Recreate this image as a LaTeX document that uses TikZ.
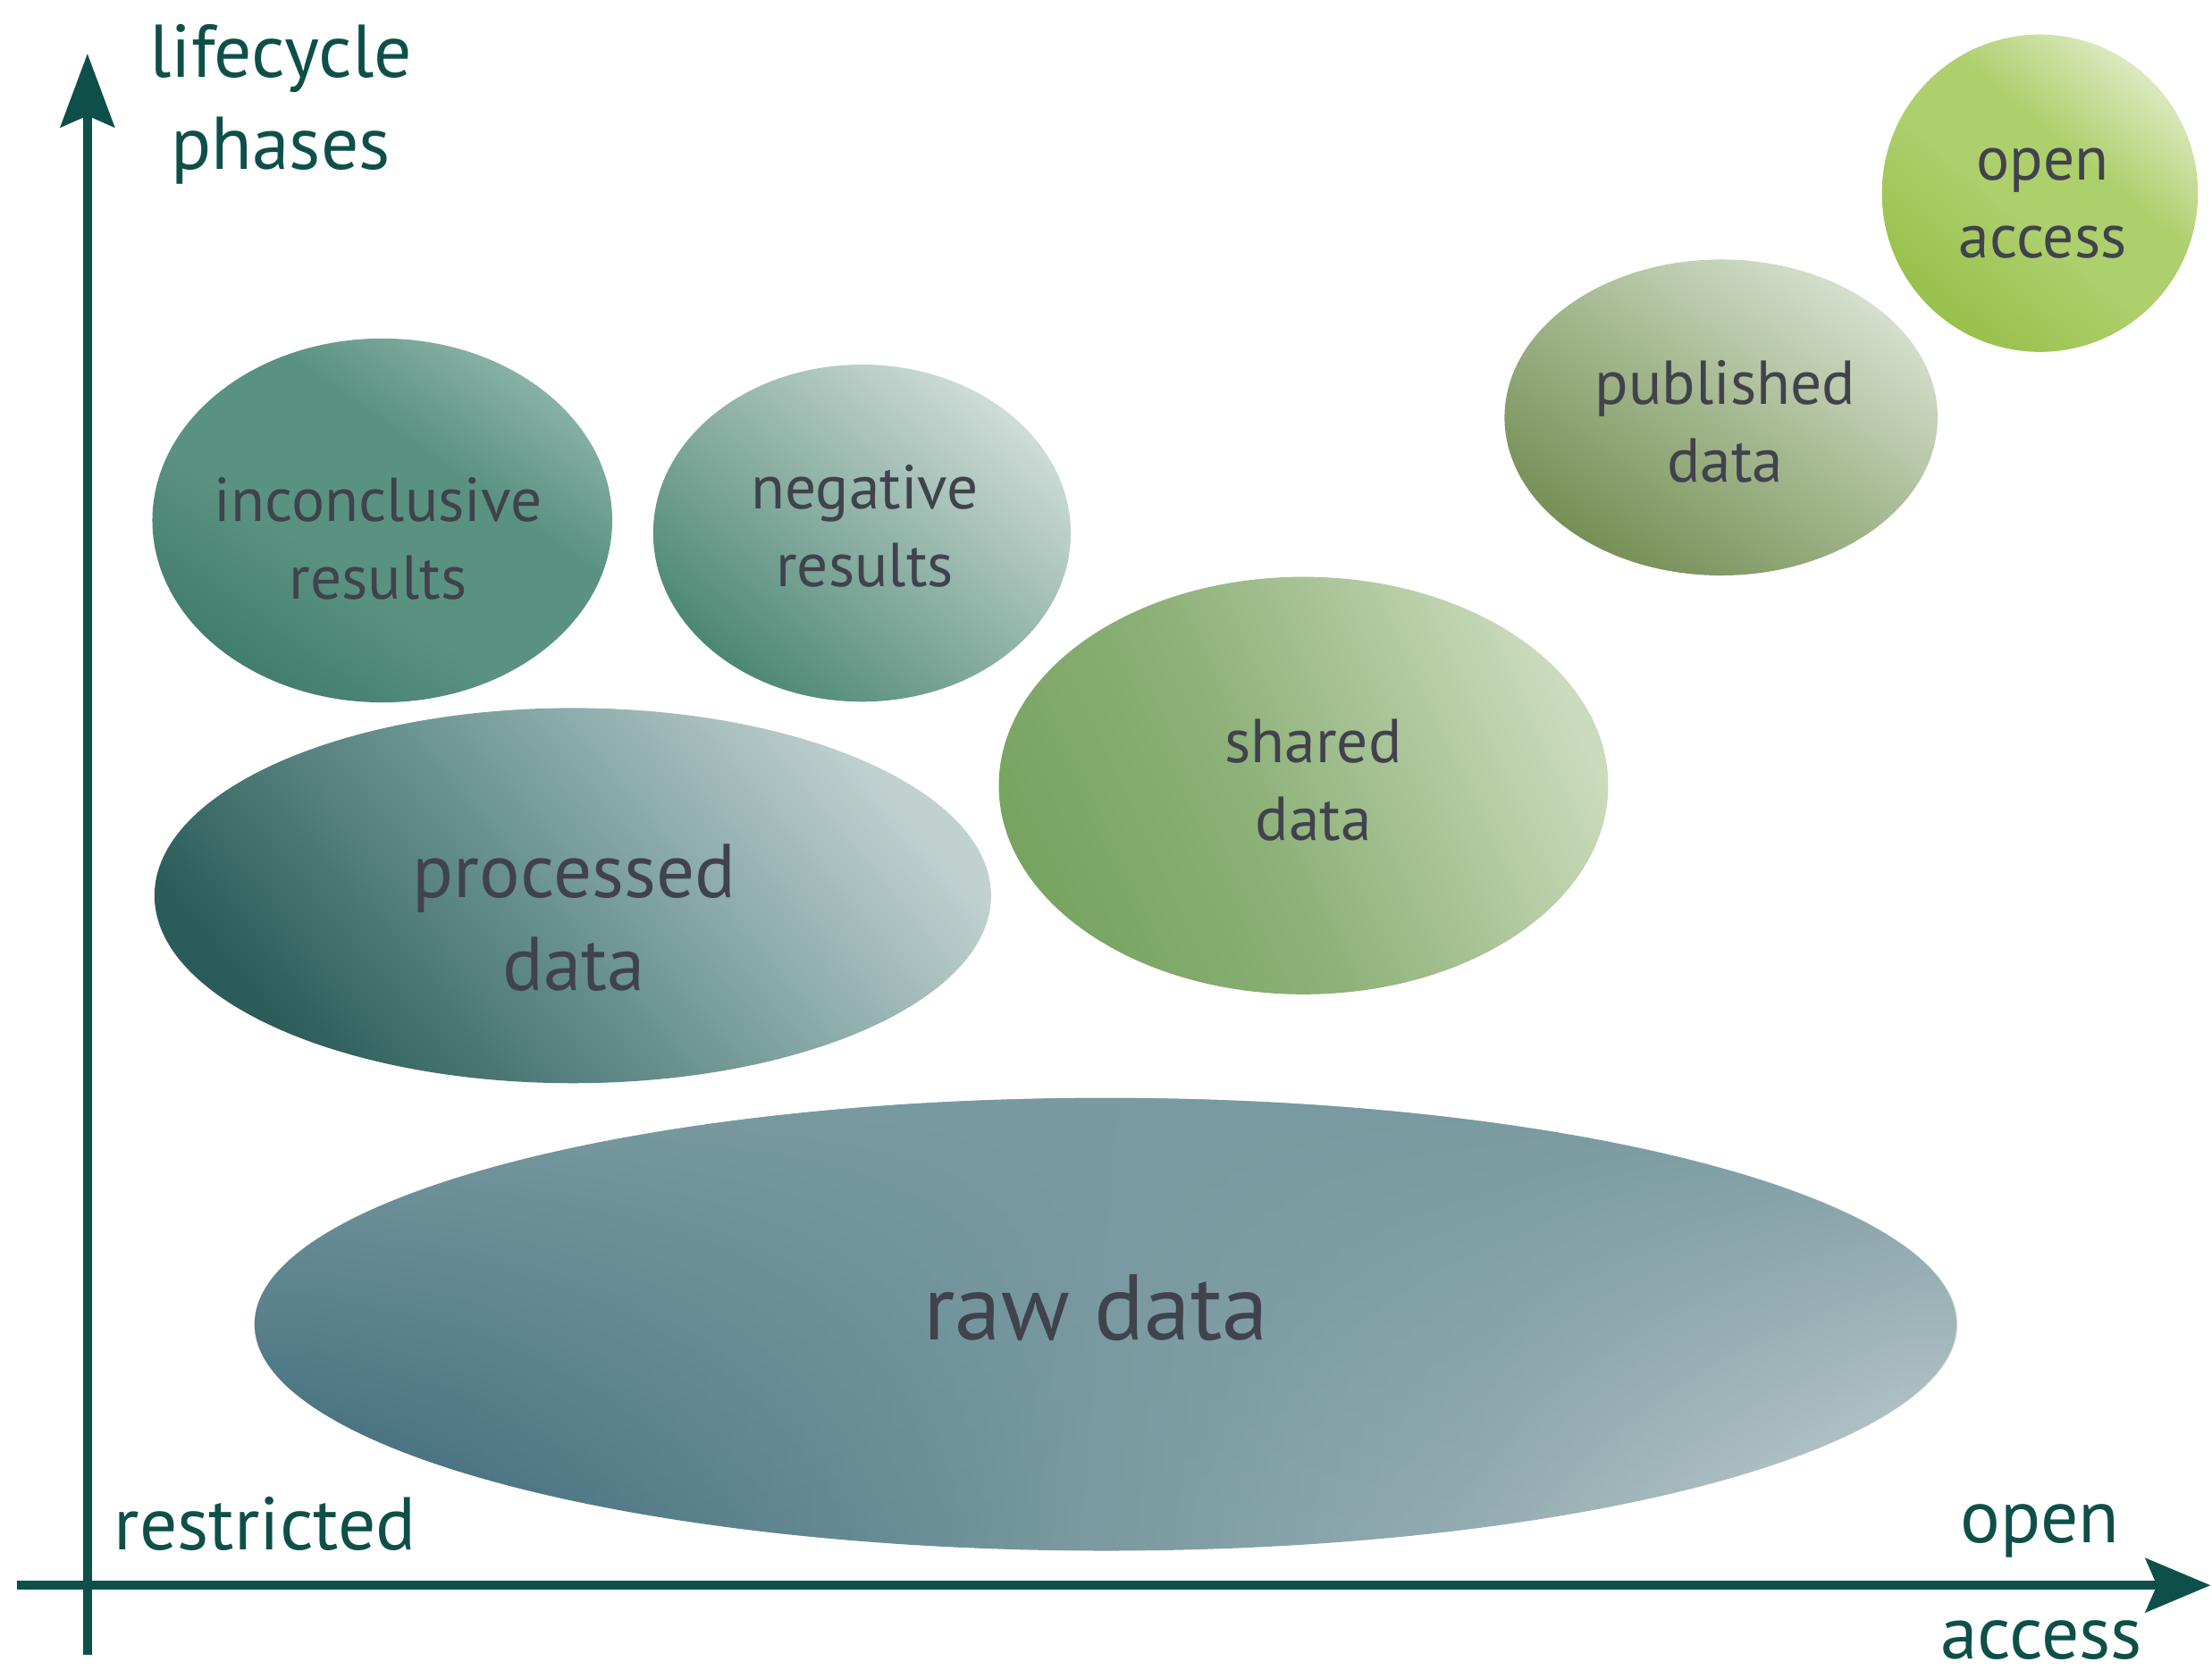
\documentclass[tikz,border=0pt]{standalone}
\usepackage{fontspec}
\setmainfont{PT Sans}
\usetikzlibrary{shapes.geometric,arrows.meta,calc,fadings}
\definecolor{axiscol}{HTML}{0E5049}
\definecolor{textcol}{HTML}{40424C}
\definecolor{rawA}{HTML}{C8D2D5}\definecolor{rawB}{HTML}{386576}\definecolor{rawC}{HTML}{799AA0}
\definecolor{procA}{HTML}{C0D1D0}\definecolor{procB}{HTML}{2B5C59}\definecolor{procC}{HTML}{6A9390}
\definecolor{incA}{HTML}{8AB2A7}\definecolor{incB}{HTML}{417D6C}\definecolor{incC}{HTML}{5A9282}
\definecolor{negA}{HTML}{CEDDD7}\definecolor{negB}{HTML}{4C8774}\definecolor{negC}{HTML}{8EB1A5}
\definecolor{shA}{HTML}{CBDBBD}\definecolor{shB}{HTML}{78A462}\definecolor{shC}{HTML}{8DB178}
\definecolor{pubA}{HTML}{D6E0CE}\definecolor{pubB}{HTML}{758F55}\definecolor{pubC}{HTML}{A3B78E}
\definecolor{oaA}{HTML}{DCE9BE}\definecolor{oaB}{HTML}{98C04B}\definecolor{oaC}{HTML}{ADCF6C}
\pgfdeclareverticalshading{rawsh}{100bp}{color(0bp)=(rawB); color(25bp)=(rawB); color(30bp)=(rawB!85!rawC); color(50bp)=(rawC); color(62bp)=(rawC!65!rawA); color(75bp)=(rawA); color(100bp)=(rawA)}
\pgfdeclareverticalshading{procsh}{100bp}{color(0bp)=(procB); color(25bp)=(procB); color(48bp)=(procC); color(75bp)=(procA); color(100bp)=(procA)}
\pgfdeclareverticalshading{incsh}{100bp}{color(0bp)=(incB); color(25bp)=(incB); color(42bp)=(incC); color(60bp)=(incC); color(75bp)=(incA); color(100bp)=(incA)}
\pgfdeclareverticalshading{negsh}{100bp}{color(0bp)=(negB); color(25bp)=(negB); color(50bp)=(negC); color(75bp)=(negA); color(100bp)=(negA)}
\pgfdeclareverticalshading{shsh}{100bp}{color(0bp)=(shB); color(25bp)=(shB); color(45bp)=(shC); color(75bp)=(shA); color(100bp)=(shA)}
\pgfdeclareverticalshading{pubsh}{100bp}{color(0bp)=(pubB); color(25bp)=(pubB); color(50bp)=(pubC); color(75bp)=(pubA); color(100bp)=(pubA)}
\pgfdeclareverticalshading{oash}{100bp}{color(0bp)=(oaB); color(25bp)=(oaB); color(45bp)=(oaC); color(58bp)=(oaC); color(75bp)=(oaA); color(100bp)=(oaA)}
\tikzfading[name=fadetop, top color=transparent!0, middle color=transparent!70, bottom color=transparent!100]
\tikzset{
  blob/.style={ellipse, inner sep=0pt, draw=none, shade},
  lbl/.style={text=textcol, align=center, inner sep=0pt, font=\fontsize{44}{55}\selectfont},
  axlbl/.style={text=axiscol, align=center, inner sep=0pt, anchor=base, font=\fontsize{53}{65}\selectfont},
  axisline/.style={draw=axiscol, line width=6.3pt},
}
\begin{document}
\begin{tikzpicture}[x=1pt,y=-1pt]
\useasboundingbox[fill=white] (0,0) rectangle (1568,1184);

% ellipses
\node[blob, minimum width=1207pt, minimum height=321pt,
  shading=rawsh, shading angle=-95] (raw) at (784,939) {};
\fill[rawC, path fading=fadetop] (raw.center) ellipse [x radius=603.5pt, y radius=160.5pt];
\node[blob, minimum width=593pt, minimum height=266pt,
  shading=procsh, shading angle=-50] (proc) at (406,635) {};
\node[blob, minimum width=326pt, minimum height=258pt,
  shading=incsh, shading angle=-35] (inc) at (271,369) {};
\node[blob, minimum width=296pt, minimum height=239pt,
  shading=negsh, shading angle=-40] (neg) at (611,378) {};
\node[blob, minimum width=432pt, minimum height=296pt,
  shading=shsh, shading angle=-65] (shared) at (924,557) {};
\node[blob, minimum width=307pt, minimum height=224pt,
  shading=pubsh, shading angle=-35] (pub) at (1220,296) {};
\node[blob, minimum width=224pt, minimum height=225pt,
  shading=oash, shading angle=-40] (oa) at (1446,137) {};

% labels
\node[lbl, font=\fontsize{66}{70}\selectfont] (rawt) at ($(raw.center)+(-7,-12)$) {raw data};
\node[lbl, font=\fontsize{54}{66}\selectfont] (proct) at ($(proc.center)+(1,16)$) {processed\\data};
\node[lbl] (inct) at ($(inc.center)+(-3,13)$) {inconclusive\\results};
\node[lbl] (negt) at ($(neg.center)+(2,-5)$) {negative\\results};
\node[lbl] (sharedt) at ($(shared.center)+(7,-4)$) {shared\\data};
\node[lbl] (pubt) at ($(pub.center)+(3,3)$) {published\\data};
\node[lbl] (oat) at ($(oa.center)+(2,7)$) {open\\access};

% axes
\coordinate (yb) at (62,1173);
\coordinate (yt) at (62,38);
\coordinate (xl) at (12,1124);
\coordinate (xr) at (1567,1124);
\draw[axisline, -{Stealth[length=52pt, width=38pt, inset=8pt]}] (yb) -- (yt);
\draw[axisline, -{Stealth[length=46pt, width=38pt, inset=8pt]}] (xl) -- (xr);

\node[axlbl] (ylab1) at (199,55) {lifecycle};
\node[axlbl] (ylab2) at (199,120) {phases};
\node[axlbl] (restr) at (188,1099) {restricted};
\node[axlbl] (openl) at (1446,1094) {open};
\node[axlbl] (accessl) at (1447,1176) {access};
\end{tikzpicture}
\end{document}
